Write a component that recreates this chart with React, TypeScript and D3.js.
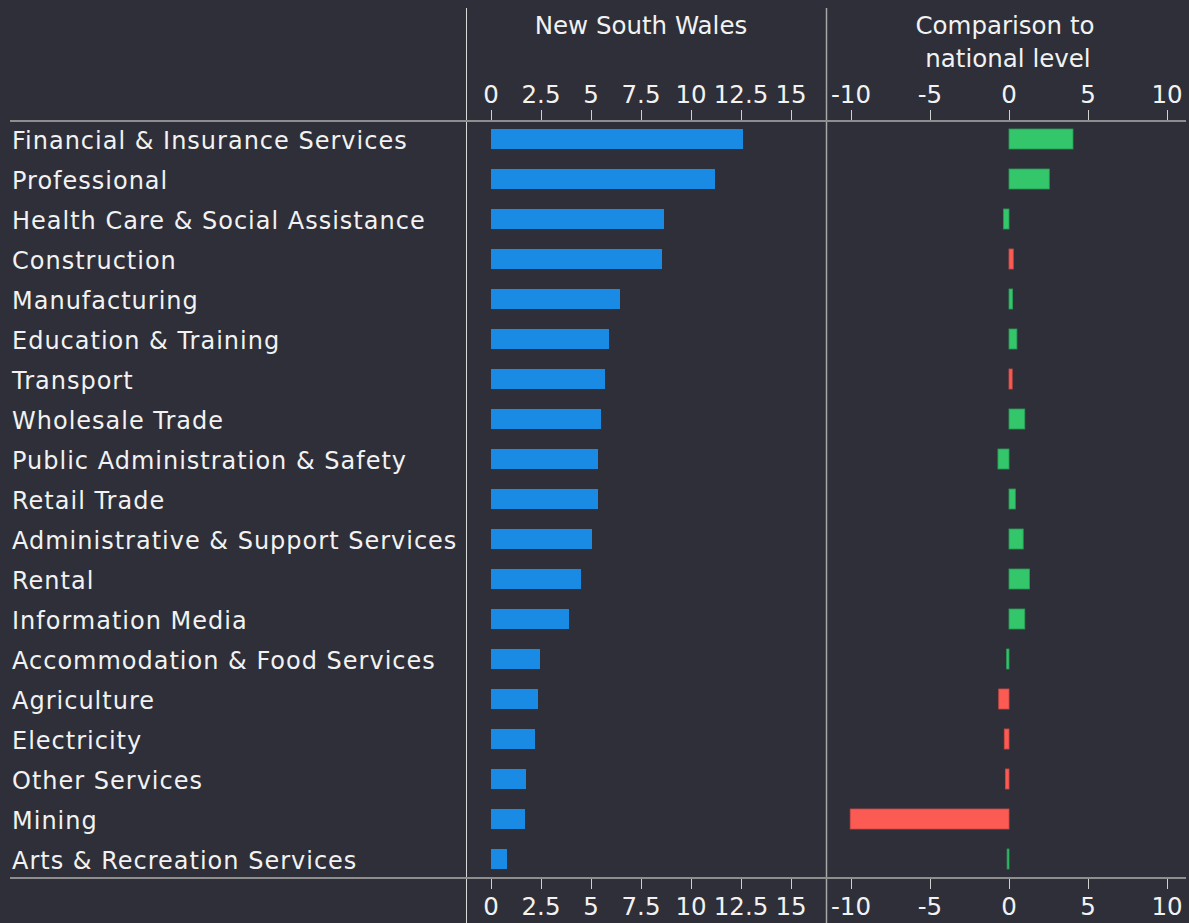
import React from "react";
import * as d3 from "d3";

const categories = [
  "Financial & Insurance Services",
  "Professional",
  "Health Care & Social Assistance",
  "Construction",
  "Manufacturing",
  "Education & Training",
  "Transport",
  "Wholesale Trade",
  "Public Administration & Safety",
  "Retail Trade",
  "Administrative & Support Services",
  "Rental",
  "Information Media",
  "Accommodation & Food Services",
  "Agriculture",
  "Electricity",
  "Other Services",
  "Mining",
  "Arts & Recreation Services",
];

const nswValues = [12.6, 11.2, 8.65, 8.55, 6.45, 5.9, 5.7, 5.5, 5.35, 5.35, 5.05, 4.5, 3.9, 2.45, 2.35, 2.2, 1.75, 1.7, 0.8];

const diffValues = [4.05, 2.55, -0.35, 0.27, 0.23, 0.5, 0.2, 1.0, -0.7, 0.4, 0.9, 1.3, 1.0, -0.15, -0.65, -0.3, -0.23, -10.05, -0.12];

const diffStatus = ["good", "good", "good", "bad", "good", "good", "bad", "good", "good", "good", "good", "good", "good", "good", "bad", "bad", "bad", "bad", "good"];

const nswTicks = [0, 2.5, 5, 7.5, 10, 12.5, 15];
const diffTicks = [-10, -5, 0, 5, 10];

const W = 1189;
const H = 923;
const BG = "#2e2f39";
const TEXT = "#f2f2f2";
const FONT = "'DejaVu Sans', sans-serif";

export default function App() {
  const y = d3.scaleBand<string>().domain(categories).range([119, 879]).paddingInner(0.5).paddingOuter(0.25);
  const xN = d3.scaleLinear().domain([0, 15]).range([491, 791]);
  const xD = d3.scaleLinear().domain([-10, 10]).range([851, 1167]);
  const colorD = (s: string) => (s === "good" ? "#33c66a" : "#fc5b53");
  const strokeD = (s: string) => (s === "good" ? "#2a9a55" : "#c84a45");
  const axisTop = 121;
  const axisBottom = 878;

  const tickText = (x: number, label: string, yy: number, key: string) => (
    <text key={key} x={x} y={yy} textAnchor="middle" fill={TEXT} fontSize={24.5} fontFamily={FONT}>
      {label}
    </text>
  );

  return (
    <svg width={W} height={H} style={{ position: "absolute", left: 0, top: 0 }}>
      <rect x={0} y={0} width={W} height={H} fill={BG} />
      {/* vertical separators */}
      <line x1={466.5} x2={466.5} y1={8} y2={H} stroke="#d8d8d8" strokeWidth={1} />
      <line x1={826.5} x2={826.5} y1={8} y2={H} stroke="#a8a8a8" strokeWidth={1.5} />
      {/* horizontal axis lines */}
      <line x1={10} x2={1186} y1={axisTop} y2={axisTop} stroke="#8e8e8e" strokeWidth={2} />
      <line x1={10} x2={1186} y1={axisBottom} y2={axisBottom} stroke="#8e8e8e" strokeWidth={2} />

      {/* titles */}
      <text x={641} y={34} textAnchor="middle" fill={TEXT} fontSize={24.5} fontFamily={FONT}>New South Wales</text>
      <text x={1005} y={34} textAnchor="middle" fill={TEXT} fontSize={24.5} fontFamily={FONT}>Comparison to</text>
      <text x={1008} y={67} textAnchor="middle" fill={TEXT} fontSize={24.5} fontFamily={FONT}>national level</text>

      {/* ticks NSW */}
      {nswTicks.map((t) => (
        <g key={"n" + t}>
          <line x1={xN(t) + 0.5} x2={xN(t) + 0.5} y1={110} y2={axisTop - 1} stroke="#d0d0d0" />
          <line x1={xN(t) + 0.5} x2={xN(t) + 0.5} y1={axisBottom + 1} y2={889} stroke="#d0d0d0" />
          {tickText(xN(t), String(t), 103, "nt" + t)}
          {tickText(xN(t), String(t), 915, "nb" + t)}
        </g>
      ))}
      {/* ticks diff */}
      {diffTicks.map((t) => (
        <g key={"d" + t}>
          <line x1={xD(t) + 0.5} x2={xD(t) + 0.5} y1={110} y2={axisTop - 1} stroke="#d0d0d0" />
          <line x1={xD(t) + 0.5} x2={xD(t) + 0.5} y1={axisBottom + 1} y2={889} stroke="#d0d0d0" />
          {tickText(xD(t), t < 0 ? "-" + Math.abs(t) : String(t), 103, "dt" + t)}
          {tickText(xD(t), t < 0 ? "-" + Math.abs(t) : String(t), 915, "db" + t)}
        </g>
      ))}

      {/* labels */}
      {categories.map((c) => (
        <text key={"l" + c} x={12} y={(y(c) as number) + y.bandwidth() / 2 + 1} dy="0.36em" fill={TEXT}
          fontSize={24} letterSpacing={1.0} fontFamily={FONT}>
          {c}
        </text>
      ))}

      {/* NSW bars */}
      {categories.map((c, i) => (
        <rect key={"b" + c} x={xN(0)} y={y(c) as number} width={xN(nswValues[i]) - xN(0)} height={y.bandwidth()}
          fill="#1a8be5" />
      ))}

      {/* diff bars */}
      {categories.map((c, i) => {
        const v = diffValues[i];
        const x0 = xD(Math.min(0, v));
        const x1 = xD(Math.max(0, v));
        return (
          <rect key={"d" + c} x={x0} y={y(c) as number} width={Math.max(1.5, x1 - x0)} height={y.bandwidth()}
            fill={colorD(diffStatus[i])} stroke={strokeD(diffStatus[i])} strokeWidth={0.8} />
        );
      })}
    </svg>
  );
}
